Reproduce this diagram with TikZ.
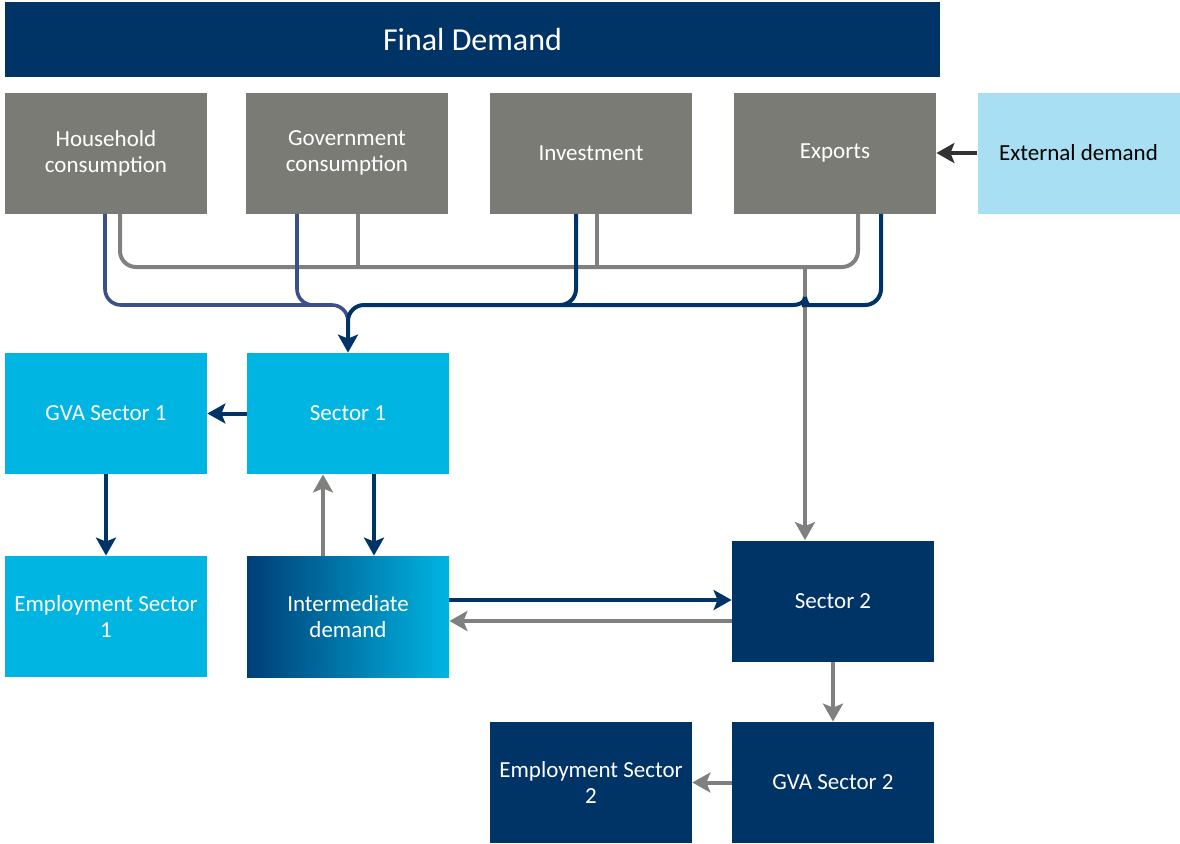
\documentclass[tikz,border=0pt]{standalone}
\usepackage{fontspec}
\setmainfont{Carlito}
\usetikzlibrary{arrows.meta}
\definecolor{navy}{RGB}{0,51,102}
\definecolor{cyanbox}{RGB}{0,181,226}
\definecolor{greybox}{RGB}{123,123,118}
\definecolor{greyline}{RGB}{128,128,126}
\definecolor{paleblue}{RGB}{169,223,242}
\definecolor{midblue}{RGB}{60,79,138}
\definecolor{deepblue}{RGB}{0,62,118}
\begin{document}
\begin{tikzpicture}[x=0.5pt, y=-0.5pt, >={Stealth[length=9pt,width=10pt,inset=2pt]},
    box/.style={minimum width=101pt, minimum height=60.5pt, inner sep=0pt, align=center,
        text=white, font=\fontsize{11.5}{13}\selectfont},
    gline/.style={draw=greyline, line width=2pt},
    nline/.style={draw=navy, line width=2pt},
    bline/.style={draw=midblue, line width=1.8pt}]
\useasboundingbox (0,0) rectangle (1180,843);

\node[box, fill=navy, minimum width=467.5pt, minimum height=37.5pt,
    font=\fontsize{16}{18}\selectfont] (fd) at (472.5,39.5) {Final Demand};
\node[box, fill=greybox] (hh) at (106,153) {Household\\consumption};
\node[box, fill=greybox] (gv) at (347,153) {Government\\consumption};
\node[box, fill=greybox] (inv) at (591,153) {Investment};
\node[box, fill=greybox] (ex) at (835,153) {Exports};
\node[box, fill=paleblue, text=black] (ext) at (1078.5,153) {External demand};

\node[box, fill=cyanbox] (gva1) at (106,413.5) {GVA Sector 1};
\node[box, fill=cyanbox] (s1) at (348,413.5) {Sector 1};
\node[box, fill=cyanbox] (emp1) at (106,616.5) {Employment Sector\\1};
\node[box, left color=deepblue, right color=cyanbox] (id) at (348,616.5) {Intermediate\\demand};
\node[box, fill=navy] (s2) at (833,601) {Sector 2};
\node[box, fill=navy] (gva2) at (833,782.5) {GVA Sector 2};
\node[box, fill=navy] (emp2) at (591,782.5) {Employment Sector\\2};

\draw[gline, rounded corners=8pt] (hh.south -| 120,0) -- (120,267) -- (858,267) -- (ex.south -| 858,0);
\foreach \n/\x in {gv/358, inv/597}
    \draw[gline] (\n.south -| \x,0) -- (\x,267);
\draw[gline, ->] (805,267) -- (s2.north -| 805,0);

\draw[bline, rounded corners=8pt] (hh.south -| 105,0) -- (105,305) -- (348,305) -- (348,325);
\draw[bline, rounded corners=8pt] (gv.south -| 297,0) -- (297,305) -- (330,305);
\draw[nline, ->, rounded corners=8pt] (inv.south -| 576,0) -- (576,305) -- (348,305) -- (s1.north -| 348,0);
\draw[nline] (560,305) -- (793,305) to[out=0, in=-90] (805,297);
\draw[nline, rounded corners=8pt] (ex.south -| 881,0) -- (881,305) -- (818,305) to[out=180, in=-90] (805,297);

\draw[->, draw=black!80, line width=2pt] (ext) -- (ex);
\draw[nline, ->] (s1) -- (gva1);
\draw[nline, ->] (gva1) -- (emp1);
\draw[gline, ->] (id.north -| 323,0) -- (s1.south -| 323,0);
\draw[nline, ->] (s1.south -| 374,0) -- (id.north -| 374,0);
\draw[nline, ->] (id.east |- 0,600) -- (s2.west |- 0,600);
\draw[gline, ->] (s2.west |- 0,621) -- (id.east |- 0,621);
\draw[gline, ->] (s2) -- (gva2);
\draw[gline, ->] (gva2) -- (emp2);
\end{tikzpicture}
\end{document}
